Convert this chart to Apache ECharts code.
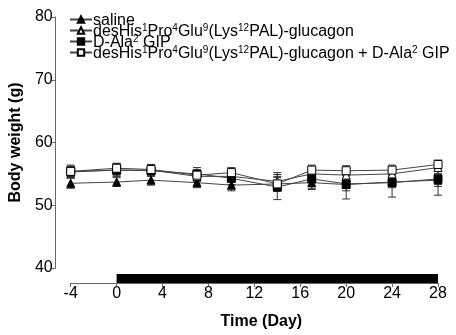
<!DOCTYPE html>
<html>
<head>
<meta charset="utf-8">
<script src="https://cdn.jsdelivr.net/npm/echarts@6/dist/echarts.min.js"></script>
<style>
  html, body { margin: 0; padding: 0; background: #fff; }
  #chart { width: 456px; height: 335px; }
</style>
</head>
<body>
<div id="chart"></div>
<script>
const days = [-4, 0, 3, 7, 10, 14, 17, 20, 24, 28];

const saline     = [53.5, 53.7, 54.0, 53.6, 53.2, 53.4, 53.6, 53.3, 53.7, 54.0];
const salineErr  = [0.8, 0.7, 0.8, 0.8, 0.9, 1.2, 0.9, 1.0, 0.9, 1.0];
const desHis     = [55.3, 55.6, 55.6, 54.6, 54.6, 53.8, 55.0, 54.8, 55.0, 56.0];
const desHisErr  = [0.9, 0.9, 0.9, 0.8, 0.9, 1.4, 0.9, 1.0, 1.0, 1.0];
const dAla       = [55.4, 55.6, 55.5, 55.0, 54.3, 52.9, 54.2, 53.4, 53.6, 54.2];
const dAlaErr    = [1.0, 1.0, 0.9, 1.0, 1.0, 2.0, 1.7, 2.4, 2.3, 2.6];
const combo      = [55.4, 55.9, 55.7, 54.8, 55.2, 53.4, 55.6, 55.5, 55.6, 56.5];
const comboErr   = [0.8, 0.8, 0.8, 0.8, 0.8, 1.0, 0.8, 0.8, 0.8, 0.7];

const yTicks = [40, 50, 60, 70, 80];
const xTicks = [-4, 0, 4, 8, 12, 16, 20, 24, 28];
const treatment = [[0, 28]];

const groups = [
  { name: 'saline', values: saline, err: salineErr, symbol: 'triangle', fill: '#000' },
  { name: 'desHis', values: desHis, err: desHisErr, symbol: 'triangle', fill: '#fff' },
  { name: 'dAla', values: dAla, err: dAlaErr, symbol: 'rect', fill: '#000' },
  { name: 'combo', values: combo, err: comboErr, symbol: 'rect', fill: '#fff' }
];

const labels = {
  saline: '{n|saline}',
  desHis: '{n|desHis}{s|1}{n|Pro}{s|4}{n|Glu}{s|9}{n|(Lys}{s|12}{n|PAL)-glucagon}',
  dAla: '{n|D-Ala}{s|2}{n| GIP}',
  combo: '{n|desHis}{s|1}{n|Pro}{s|4}{n|Glu}{s|9}{n|(Lys}{s|12}{n|PAL)-glucagon + D-Ala}{s|2}{n| GIP}'
};

const chart = echarts.init(document.getElementById('chart'));

const errorSeries = groups.map(g => ({
  type: 'custom',
  name: g.name + '-err',
  z: 1,
  silent: true,
  data: days.map((d, i) => [d, g.values[i] - g.err[i], g.values[i] + g.err[i]]),
  renderItem: (params, api) => {
    const lo = api.coord([api.value(0), api.value(1)]);
    const hi = api.coord([api.value(0), api.value(2)]);
    const w = 4;
    const style = { stroke: '#333', lineWidth: 1 };
    return {
      type: 'group',
      children: [
        { type: 'line', shape: { x1: lo[0], y1: lo[1], x2: hi[0], y2: hi[1] }, style },
        { type: 'line', shape: { x1: lo[0] - w, y1: lo[1], x2: lo[0] + w, y2: lo[1] }, style },
        { type: 'line', shape: { x1: hi[0] - w, y1: hi[1], x2: hi[0] + w, y2: hi[1] }, style }
      ]
    };
  }
}));

const lineSeries = groups.map(g => ({
  type: 'line',
  name: g.name,
  z: 3,
  data: days.map((d, i) => [d, g.values[i]]),
  symbol: g.symbol,
  symbolSize: 8,
  showAllSymbol: true,
  lineStyle: { color: '#444', width: 1 },
  itemStyle: { color: g.fill, borderColor: '#000', borderWidth: 1 },
  emphasis: { disabled: true }
}));

const barSeries = {
  type: 'custom',
  name: 'treatment',
  silent: true,
  clip: false,
  data: treatment,
  renderItem: (params, api) => {
    const a = api.coord([api.value(0), 40]);
    const b = api.coord([api.value(1), 40]);
    return {
      type: 'rect',
      shape: { x: a[0], y: a[1] + 6, width: b[0] - a[0], height: 9 },
      style: { fill: '#000' }
    };
  }
};

chart.setOption({
  animation: false,
  backgroundColor: '#fff',
  textStyle: { fontFamily: 'Liberation Sans, Arial, sans-serif' },
  grid: { left: 68, right: 18, top: 17, bottom: 63 },
  legend: {
    data: groups.map(g => g.name),
    orient: 'vertical',
    left: 64,
    top: 5,
    itemGap: -8,
    itemWidth: 22,
    itemHeight: 8,
    selectedMode: false,
    textStyle: {
      color: '#000',
      padding: [0, 0, 0, -4],
      rich: {
        n: { fontSize: 16, lineHeight: 14, padding: [3, 0, 0, 0], color: '#000' },
        s: { fontSize: 10, lineHeight: 10, verticalAlign: 'top', color: '#000' }
      }
    },
    formatter: name => labels[name]
  },
  xAxis: {
    type: 'value',
    min: -4,
    max: 28,
    interval: 4,
    offset: 15,
    name: 'Time (Day)',
    nameLocation: 'middle',
    nameGap: 31,
    nameTextStyle: { fontSize: 16, fontWeight: 'bold', color: '#000', padding: [0, 0, 0, 14] },
    axisLine: { onZero: false, lineStyle: { color: '#666', width: 1 } },
    axisTick: { length: 4, lineStyle: { color: '#666' } },
    axisLabel: { fontSize: 16, color: '#000', margin: 3 },
    splitLine: { show: false }
  },
  yAxis: {
    type: 'value',
    min: 40,
    max: 80,
    interval: 10,
    offset: 15,
    name: 'Body weight (g)',
    nameLocation: 'middle',
    nameGap: 30,
    nameTextStyle: { fontSize: 16, fontWeight: 'bold', color: '#000' },
    axisLine: { show: true, onZero: false, lineStyle: { color: '#666', width: 1 } },
    axisTick: { show: true, length: 4, lineStyle: { color: '#666' } },
    axisLabel: { fontSize: 16, color: '#000', margin: 3 },
    splitLine: { show: false }
  },
  series: [...errorSeries, ...lineSeries, barSeries]
});
</script>
</body>
</html>
